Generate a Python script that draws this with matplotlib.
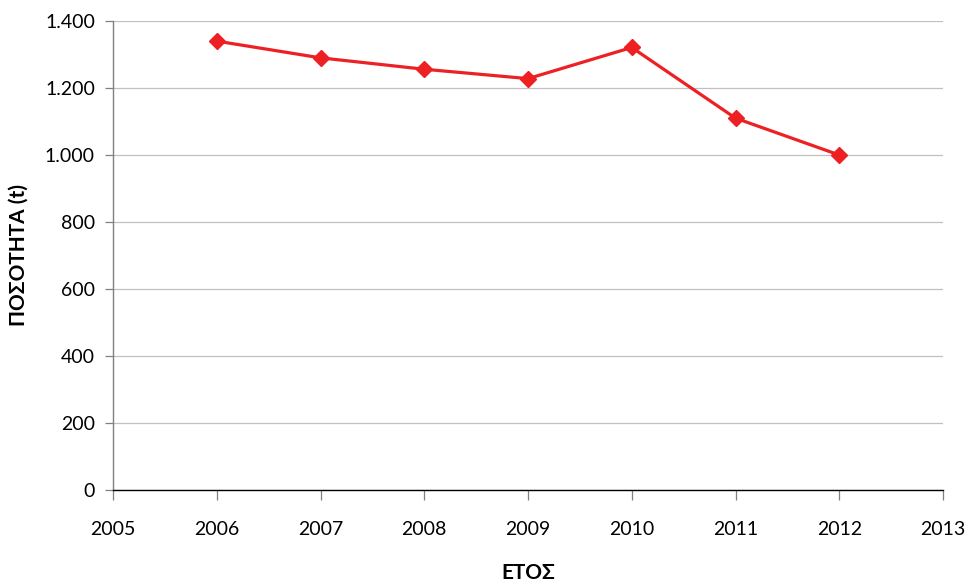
import matplotlib
matplotlib.use("Agg")
import matplotlib.pyplot as plt
from matplotlib.ticker import FuncFormatter, MultipleLocator

years = [2006, 2007, 2008, 2009, 2010, 2011, 2012]
quantity = [1340, 1290, 1256, 1228, 1321, 1110, 1000]
x_label = "ΕΤΟΣ"
y_label = "ΠΟΣΟΤΗΤΑ (t)"

plt.rcParams['font.family'] = ['Lato', 'DejaVu Sans']

fig = plt.figure(figsize=(9.71, 5.83), dpi=100)
ax = fig.add_axes([113/971, 1-490/583, (943-113)/971, (490-21)/583])

ax.plot(years, quantity, color='#ED2024', lw=2.3, marker='D', markersize=7.8,
        markeredgecolor='#ED2024', markerfacecolor='#ED2024', zorder=3)

ax.set_xlim(2005, 2013)
ax.set_ylim(0, 1400)
ax.yaxis.set_major_locator(MultipleLocator(200))
ax.xaxis.set_major_locator(MultipleLocator(1))
ax.yaxis.set_major_formatter(FuncFormatter(lambda v, p: f"{int(v):,}".replace(",", ".")))
ax.xaxis.set_major_formatter(FuncFormatter(lambda v, p: f"{int(v)}"))

ax.grid(axis='y', color='#C0C0C0', lw=0.9)
ax.set_axisbelow(True)
for s in ['top', 'right']:
    ax.spines[s].set_visible(False)
ax.spines['left'].set_color('#808080')
ax.spines['left'].set_linewidth(1.0)
ax.spines['bottom'].set_color('#000000')
ax.spines['bottom'].set_linewidth(1.0)

ax.tick_params(axis='y', length=6, width=0.9, color='#808080', pad=7, labelsize=14)
ax.tick_params(axis='x', length=7, width=0.9, color='#808080', pad=15, labelsize=14)

ax.set_xlabel(x_label, fontsize=15, fontweight='bold', labelpad=18)
ax.set_ylabel(y_label, fontsize=15, fontweight='bold', labelpad=12)

fig.savefig("out.png", dpi=100)
